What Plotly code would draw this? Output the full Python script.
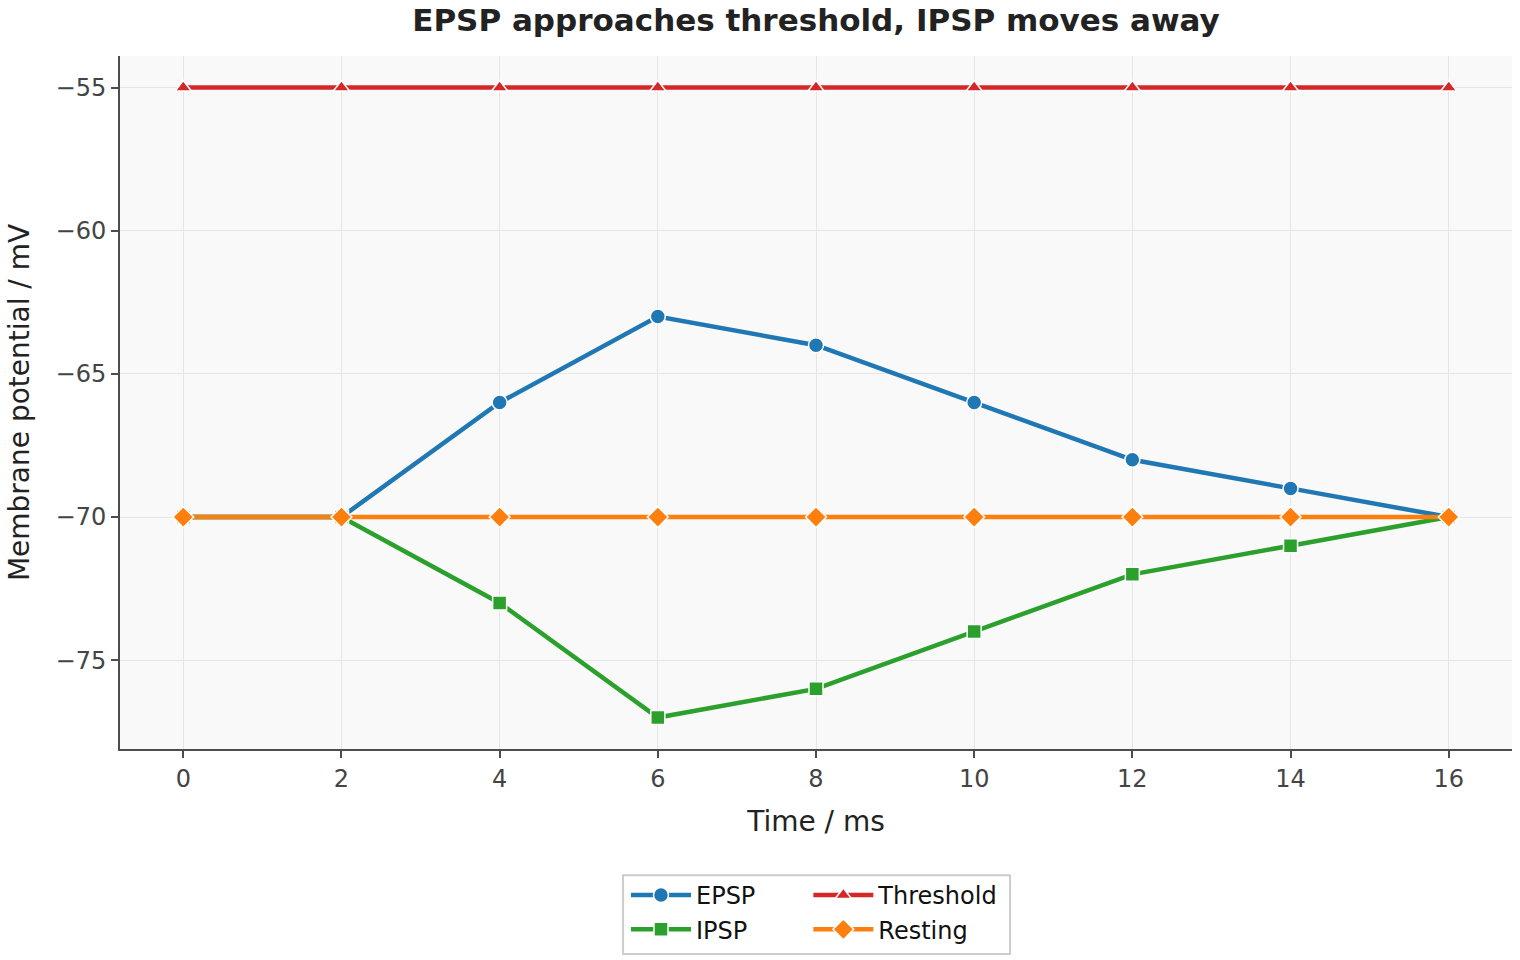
import plotly.graph_objects as go

time_ms = [0, 2, 4, 6, 8, 10, 12, 14, 16]
epsp = [-70, -70, -66, -63, -64, -66, -68, -69, -70]
ipsp = [-70, -70, -73, -77, -76, -74, -72, -71, -70]
threshold = [-55, -55, -55, -55, -55, -55, -55, -55, -55]
resting = [-70, -70, -70, -70, -70, -70, -70, -70, -70]

x_ticks = [0, 2, 4, 6, 8, 10, 12, 14, 16]
y_ticks = [-75, -70, -65, -60, -55]
y_tick_labels = ["\u221275", "\u221270", "\u221265", "\u221260", "\u221255"]

FONT = "DejaVu Sans"

fig = go.Figure()

def add(name, y, color, symbol, size, legend):
    fig.add_trace(go.Scatter(
        x=time_ms, y=y, name=name, mode="lines+markers",
        line=dict(color=color, width=4.5),
        marker=dict(symbol=symbol, size=size, color=color,
                    line=dict(color="white", width=1.5)),
        legend=legend,
    ))

add("EPSP", epsp, "#1f77b4", "circle", 15, "legend")
add("IPSP", ipsp, "#2ca02c", "square", 14, "legend")
add("Threshold", threshold, "#d62728", "triangle-up", 14, "legend2")
add("Resting", resting, "#ff7f0e", "diamond", 16, "legend2")

axis_common = dict(
    showgrid=True, gridcolor="#e6e6e6", gridwidth=1,
    zeroline=False, showline=True, linecolor="#4d4d4d", linewidth=2,
    ticks="outside", ticklen=7, tickwidth=1.5, tickcolor="#4d4d4d",
    tickfont=dict(family=FONT, size=24, color="#444444"),
    mirror=False,
)

fig.update_xaxes(
    range=[-0.8, 16.8], tickvals=x_ticks,
    title=dict(text="Time / ms", font=dict(family=FONT, size=28, color="#222222"), standoff=20),
    **axis_common,
)
fig.update_yaxes(
    range=[-78.1, -53.9], tickvals=y_ticks, ticktext=y_tick_labels,
    title=dict(text="Membrane potential / mV", font=dict(family=FONT, size=28, color="#222222"), standoff=18),
    **axis_common,
)

legend_common = dict(
    orientation="v", yref="container", yanchor="top", y=1 - 873 / 960,
    xanchor="left",
    bgcolor="rgba(0,0,0,0)", borderwidth=0,
    font=dict(family=FONT, size=24, color="#111111"),
    itemwidth=60, traceorder="normal",
)

fig.update_layout(
    width=1520, height=960,
    paper_bgcolor="white", plot_bgcolor="#f9f9f9",
    margin=dict(l=120, r=8, t=56, b=211),
    font=dict(family=FONT, color="#222222"),
    title=dict(text="<b>EPSP approaches threshold, IPSP moves away</b>",
               font=dict(family=FONT, size=31, color="#222222"),
               x=0.5, xref="paper", xanchor="center", y=0.979, yanchor="middle"),
    legend=dict(x=0.3635, **legend_common),
    legend2=dict(x=0.4945, **legend_common),
    shapes=[dict(type="rect", xref="paper", yref="paper",
                 x0=0.3614, x1=0.6394, y0=-0.182, y1=-0.2958,
                 fillcolor="white", line=dict(color="#cccccc", width=2),
                 layer="below")],
    showlegend=True,
)

fig.write_html("out.html")
